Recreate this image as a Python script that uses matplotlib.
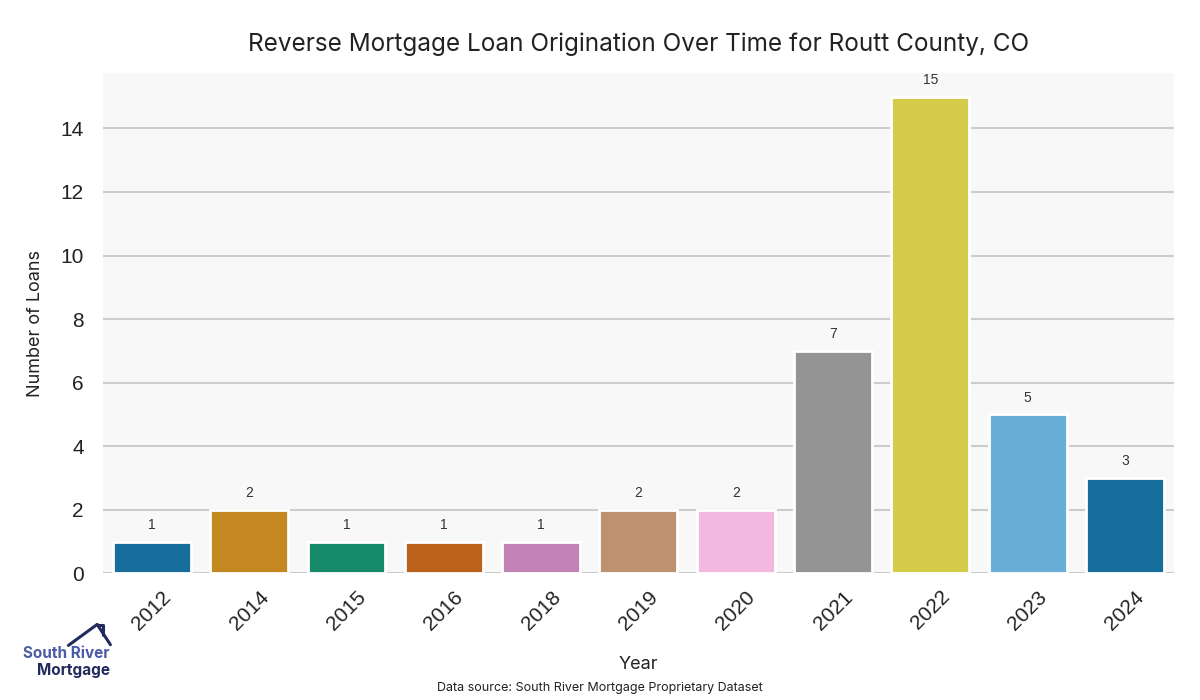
import matplotlib
matplotlib.use("Agg")
import matplotlib.pyplot as plt
import pandas as pd
import seaborn as sns

years = ["2012", "2014", "2015", "2016", "2018", "2019", "2020", "2021", "2022", "2023", "2024"]
loans = [1, 2, 1, 1, 1, 2, 2, 7, 15, 5, 3]

TITLE = "Reverse Mortgage Loan Origination Over Time for Routt County, CO"
SOURCE = "Data source: South River Mortgage Proprietary Dataset"

sns.set_style("whitegrid", {"axes.facecolor": "#f8f8f8", "grid.color": "#cccccc"})
plt.rcParams["font.family"] = ["Liberation Sans", "DejaVu Sans"]

df = pd.DataFrame({"Year": years, "Loans": loans})

fig = plt.figure(figsize=(12, 7), dpi=100)
ax = fig.add_axes([0.086, 0.181, 0.892, 0.715])
sns.barplot(data=df, x="Year", y="Loans", hue="Year", palette="colorblind",
            legend=False, edgecolor="white", linewidth=2, ax=ax)
for c in ax.containers:
    ax.bar_label(c, padding=7, fontsize=10, color="#333333")

ax.set_ylim(0, max(loans) * 1.05)
ax.grid(axis="x", visible=False)
ax.grid(axis="y", linewidth=1.5, color="#cccccc")
for s in ax.spines.values():
    s.set_visible(False)
ax.tick_params(axis="both", labelsize=15, colors="#222222", length=0)
ax.tick_params(axis="x", pad=10)
ax.tick_params(axis="y", pad=14)
plt.setp(ax.get_xticklabels(), rotation=45)
ax.set_xlabel("Year", family=["Inter", "DejaVu Sans"], fontsize=13, color="#222222", labelpad=16)
ax.set_ylabel("Number of Loans", family=["Inter", "DejaVu Sans"], fontsize=13, color="#222222",
              labelpad=12)
ax.set_title(TITLE, family=["Inter", "DejaVu Sans"], fontsize=17.5, color="#222222", pad=16)
fig.text(0.5, 0.008, SOURCE, ha="center", va="bottom", family=["Inter", "DejaVu Sans"],
         fontsize=9, color="#222222")

# logo
fig.text(0.019, 0.055, "South River", fontsize=11, fontweight="bold", color="#4a5ba8",
         family=["Inter", "DejaVu Sans"], ha="left", va="bottom")
fig.text(0.092, 0.032, "Mortgage", fontsize=11, fontweight="bold", color="#232a5c",
         family=["Inter", "DejaVu Sans"], ha="right", va="bottom")
fig.add_artist(plt.Line2D([0.057, 0.081, 0.092], [0.078, 0.108, 0.079], transform=fig.transFigure,
                          color="#232a5c", linewidth=2.2))
fig.add_artist(plt.Line2D([0.082, 0.086, 0.086], [0.107, 0.107, 0.093], transform=fig.transFigure,
                          color="#232a5c", linewidth=2.2))

fig.savefig("out.png", dpi=100)
